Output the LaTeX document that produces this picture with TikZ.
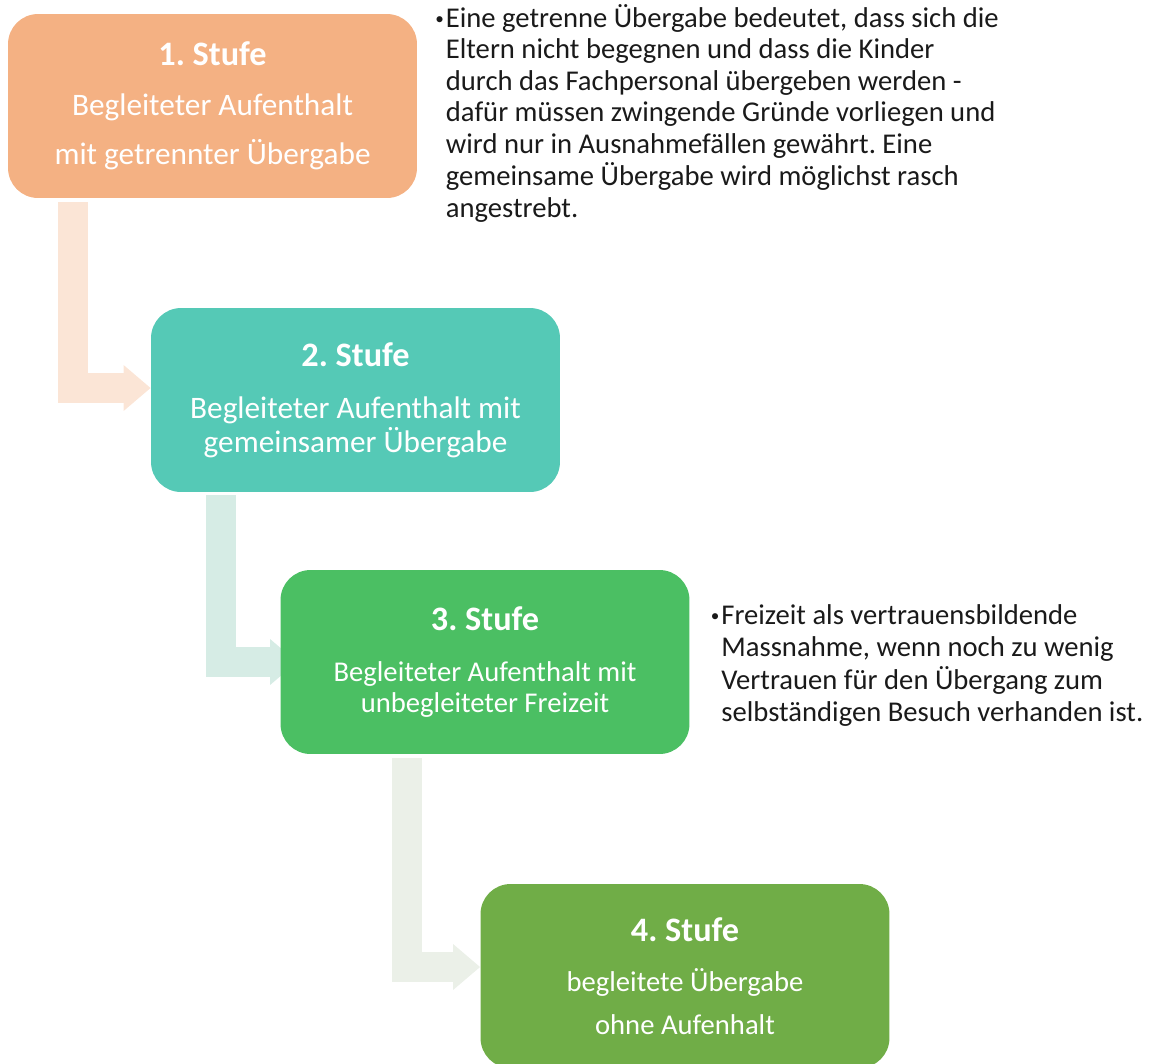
\documentclass[tikz,border=0pt]{standalone}
\usepackage{fontspec}
\setmainfont{Carlito}
\usetikzlibrary{arrows.meta, calc, backgrounds}
\frenchspacing

\definecolor{stufeA}{HTML}{F4B183}
\definecolor{stufeB}{HTML}{55C9B6}
\definecolor{stufeC}{HTML}{4BBF63}
\definecolor{stufeD}{HTML}{70AD47}
\definecolor{pfeilA}{HTML}{FBE5D6}
\definecolor{pfeilB}{HTML}{D6ECE5}
\definecolor{pfeilC}{HTML}{EBF0E8}
\definecolor{notetext}{HTML}{1A1A1A}

\newcommand{\stufetitle}[1]{{\fontsize{19.5pt}{18pt}\selectfont\bfseries #1}}
\newcommand{\notebullet}{\makebox[6pt][l]{\raisebox{0.08em}{\scalebox{0.6}{\textbullet}}}}

\begin{document}
\begin{tikzpicture}[x=0.02cm, y=-0.02cm,
    stufebox/.style={rounded corners=0.6cm, minimum width=8.18cm, minimum height=3.68cm,
      inner sep=0pt, text=white, align=center, font=\fontsize{17.8pt}{18pt}\selectfont},
    kleintext/.style={font=\fontsize{16.3pt}{18pt}\selectfont},
    stufepfeil/.style={line width=0.6cm, -{Triangle[length=0.54cm, width=0.88cm]}},
    notebox/.style={anchor=base west, inner sep=0pt, text=notetext,
      font=\fontsize{16.3pt}{18pt}\selectfont}]

    \useasboundingbox (0,0) rectangle (1150,1063);

    % Stage boxes
    \node[stufebox, fill=stufeA] (s1) at (212.5,106)
      {\stufetitle{1. Stufe}\\[10.3pt] Begleiteter Aufenthalt\\[10.3pt] mit getrennter Übergabe};
    \node[stufebox, fill=stufeB] (s2) at (355.5,400)
      {\stufetitle{2. Stufe}\\[11.5pt] Begleiteter Aufenthalt mit\\[1.3pt] gemeinsamer Übergabe};
    \node[stufebox, kleintext, fill=stufeC] (s3) at (485,662)
      {\stufetitle{3. Stufe}\\[11pt] Begleiteter Aufenthalt mit\\[0.1pt] unbegleiteter Freizeit};
    \node[stufebox, kleintext, fill=stufeD] (s4) at (685,976)
      {\stufetitle{4. Stufe}\\[10.3pt] begleitete Übergabe\\[6.4pt] ohne Aufenhalt};

    % Bent arrows between the stages (behind the boxes)
    \begin{scope}[on background layer]
      \draw[stufepfeil, pfeilA] ([xshift=1.3cm, yshift=-0.08cm]s1.south west) |- ([yshift=0.24cm]s2.west);
      \draw[stufepfeil, pfeilB] ([xshift=1.4cm, yshift=-0.06cm]s2.south west) |- ([xshift=0.34cm]s3.west);
      \draw[stufepfeil, pfeilC] ([xshift=2.53cm, yshift=-0.08cm]s3.south west) |- ([yshift=0.18cm]s4.west);
    \end{scope}

    % Notes
    \node[notebox] (n1) at (435,27) {\begin{tabular}[t]{@{}l@{}l@{}}
      \notebullet & Eine getrenne Übergabe bedeutet, dass sich die\\
      & Eltern nicht begegnen und dass die Kinder\\
      & durch das Fachpersonal übergeben werden -\\
      & dafür müssen zwingende Gründe vorliegen und\\
      & wird nur in Ausnahmefällen gewährt. Eine\\
      & gemeinsame Übergabe wird möglichst rasch\\
      & angestrebt.
    \end{tabular}};
    \node[notebox, font=\fontsize{16.3pt}{18.5pt}\selectfont] (n3) at (710.5,624) {\begin{tabular}[t]{@{}l@{}l@{}}
      \notebullet & Freizeit als vertrauensbildende\\
      & Massnahme, wenn noch zu wenig\\
      & Vertrauen für den Übergang zum\\
      & selbständigen Besuch verhanden ist.
    \end{tabular}};

\end{tikzpicture}
\end{document}
